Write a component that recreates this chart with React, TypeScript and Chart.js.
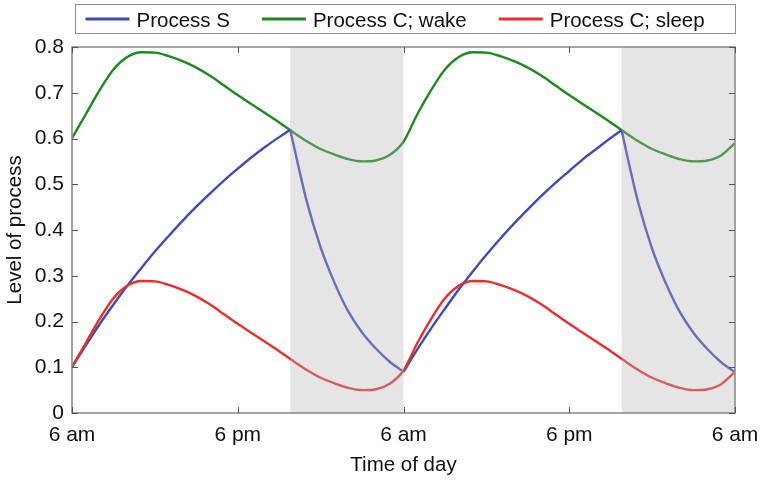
import { useEffect, useRef } from "react";
import { Chart, registerables } from "chart.js";

Chart.register(...registerables);

// Time axis: hours after 6 am on the first day
const hours = [
  0, 1, 2, 3, 4, 5, 6, 7, 8, 9, 10, 11, 12, 13, 14, 15, 16, 17, 18, 19, 20, 21, 22, 23,
  24, 25, 26, 27, 28, 29, 30, 31, 32, 33, 34, 35, 36, 37, 38, 39, 40, 41, 42, 43, 44, 45, 46, 47, 48,
];

// Circadian process C, upper threshold (wake)
const cWake = [
  0.601, 0.653, 0.706, 0.751, 0.778, 0.7885, 0.7878, 0.780, 0.769, 0.755, 0.737, 0.716, 0.695, 0.675, 0.655, 0.635,
  0.614, 0.594, 0.577, 0.565, 0.555, 0.550, 0.552, 0.564,
  0.593, 0.653, 0.706, 0.751, 0.778, 0.7885, 0.7878, 0.780, 0.769, 0.755, 0.737, 0.716, 0.695, 0.675, 0.655, 0.635,
  0.614, 0.594, 0.577, 0.565, 0.555, 0.550, 0.552, 0.563, 0.590,
];

// Circadian process C, lower threshold (sleep)
const cSleep = [
  0.101, 0.153, 0.206, 0.251, 0.278, 0.2885, 0.2878, 0.280, 0.269, 0.255, 0.237, 0.216, 0.195, 0.175, 0.155, 0.135,
  0.114, 0.094, 0.077, 0.065, 0.055, 0.050, 0.052, 0.064,
  0.093, 0.153, 0.206, 0.251, 0.278, 0.2885, 0.2878, 0.280, 0.269, 0.255, 0.237, 0.216, 0.195, 0.175, 0.155, 0.135,
  0.114, 0.094, 0.077, 0.065, 0.055, 0.050, 0.052, 0.063, 0.090,
];

// Homeostatic process S: build-up while awake, decay while asleep
const sWakeHours1 = [0, 1, 2, 3, 4, 5, 6, 7, 8, 9, 10, 11, 12, 13, 14, 15, 15.8];
const sWake1 = [0.100, 0.148, 0.194, 0.237, 0.278, 0.316, 0.353, 0.387, 0.420, 0.451, 0.480, 0.508, 0.534, 0.559, 0.582, 0.603, 0.619];
const sSleepHours1 = [15.8, 16, 17, 18, 19, 20, 21, 22, 23, 24];
const sSleep1 = [0.619, 0.592, 0.462, 0.362, 0.285, 0.222, 0.176, 0.141, 0.112, 0.090];
const sWakeHours2 = [24, 25, 26, 27, 28, 29, 30, 31, 32, 33, 34, 35, 36, 37, 38, 39, 39.8];
const sWake2 = [0.090, 0.139, 0.185, 0.228, 0.270, 0.309, 0.346, 0.381, 0.414, 0.445, 0.475, 0.503, 0.529, 0.555, 0.578, 0.601, 0.618];
const sSleepHours2 = [39.8, 40, 41, 42, 43, 44, 45, 46, 47, 48];
const sSleep2 = [0.618, 0.589, 0.459, 0.359, 0.283, 0.221, 0.175, 0.140, 0.111, 0.089];

// Sleep episodes (start hour, end hour)
const sleepStarts = [15.8, 39.8];
const sleepEnds = [24, 48];

// Axis ticks
const xTickValues = [0, 12, 24, 36, 48];
const xTickLabels = ["6 am", "6 pm", "6 am", "6 pm", "6 am"];
const yTickValues = [0, 0.1, 0.2, 0.3, 0.4, 0.5, 0.6, 0.7, 0.8];
const yTickLabels = ["0", "0.1", "0.2", "0.3", "0.4", "0.5", "0.6", "0.7", "0.8"];

const seriesNames = ["Process S", "Process C; wake", "Process C; sleep"];

const BLUE = "#3d4cbd";
const GREEN = "#1c8a1c";
const RED = "#e8302b";
const seriesColors = [BLUE, GREEN, RED];

const FONT = "'Liberation Sans', Arial, Helvetica, sans-serif";

const zip = (xs: number[], ys: number[]) => xs.map((x, i) => ({ x, y: ys[i] }));

const lineStyle = (color: string, order: number) => ({
  borderColor: color,
  backgroundColor: color,
  borderWidth: 2.4,
  pointRadius: 0,
  fill: false,
  cubicInterpolationMode: "monotone" as const,
  order,
});

// Shaded sleep episodes, drawn over the curves so they appear paler inside
const sleepShade = {
  id: "sleepShade",
  afterDatasetsDraw(chart: any) {
    const { ctx, chartArea, scales } = chart;
    ctx.save();
    ctx.fillStyle = "rgba(180,180,180,0.35)";
    sleepStarts.forEach((s, i) => {
      const x0 = scales.x.getPixelForValue(s);
      const x1 = scales.x.getPixelForValue(sleepEnds[i]);
      ctx.fillRect(x0, chartArea.top, x1 - x0, chartArea.bottom - chartArea.top);
    });
    ctx.restore();
  },
};

// Box frame with inward ticks on all four sides
const boxFrame = {
  id: "boxFrame",
  afterDraw(chart: any) {
    const { ctx, chartArea, scales } = chart;
    const { left, right, top, bottom } = chartArea;
    ctx.save();
    ctx.strokeStyle = "#8e8e8e";
    ctx.lineWidth = 1.6;
    ctx.strokeRect(left, top, right - left, bottom - top);
    ctx.strokeStyle = "#555";
    ctx.lineWidth = 1;
    const len = 6;
    ctx.beginPath();
    yTickValues.forEach((v) => {
      const y = Math.round(scales.y.getPixelForValue(v)) + 0.5;
      ctx.moveTo(left, y);
      ctx.lineTo(left + len, y);
      ctx.moveTo(right, y);
      ctx.lineTo(right - len, y);
    });
    xTickValues.forEach((v) => {
      const x = Math.round(scales.x.getPixelForValue(v)) + 0.5;
      ctx.moveTo(x, bottom);
      ctx.lineTo(x, bottom - len);
      ctx.moveTo(x, top);
      ctx.lineTo(x, top + len);
    });
    ctx.stroke();
    ctx.restore();
  },
};

// Boxed horizontal legend above the plot
const boxedLegend = {
  id: "boxedLegend",
  afterDraw(chart: any) {
    const { ctx, chartArea } = chart;
    const boxLeft = chartArea.left + 3.5;
    const boxRight = chartArea.right + 0.5;
    const boxTop = 4.5;
    const boxBottom = 33.5;
    ctx.save();
    ctx.strokeStyle = "#8e8e8e";
    ctx.lineWidth = 1;
    ctx.strokeRect(boxLeft, boxTop, boxRight - boxLeft, boxBottom - boxTop);
    ctx.font = `20.5px ${FONT}`;
    ctx.textBaseline = "alphabetic";
    ctx.textAlign = "left";
    let x = boxLeft + 10;
    const lineY = 19;
    seriesNames.forEach((name, i) => {
      ctx.strokeStyle = seriesColors[i];
      ctx.lineWidth = 2.8;
      ctx.beginPath();
      ctx.moveTo(x, lineY);
      ctx.lineTo(x + 44, lineY);
      ctx.stroke();
      ctx.fillStyle = "#111";
      ctx.fillText(name, x + 51, 26.5);
      x += 51 + ctx.measureText(name).width + 32;
    });
    ctx.restore();
  },
};

export default function App() {
  const canvasRef = useRef<HTMLCanvasElement | null>(null);

  useEffect(() => {
    const canvas = canvasRef.current;
    if (!canvas) return;
    Chart.defaults.font.family = FONT;
    Chart.defaults.color = "#111";

    const chart = new Chart(canvas, {
      type: "line",
      data: {
        datasets: [
          { label: seriesNames[2], data: zip(hours, cSleep), ...lineStyle(RED, 0) },
          { label: seriesNames[0], data: zip(sWakeHours1, sWake1), ...lineStyle(BLUE, 1) },
          { label: seriesNames[0], data: zip(sSleepHours1, sSleep1), ...lineStyle(BLUE, 1) },
          { label: seriesNames[0], data: zip(sWakeHours2, sWake2), ...lineStyle(BLUE, 1) },
          { label: seriesNames[0], data: zip(sSleepHours2, sSleep2), ...lineStyle(BLUE, 1) },
          { label: seriesNames[1], data: zip(hours, cWake), ...lineStyle(GREEN, 2) },
        ],
      },
      options: {
        responsive: false,
        animation: false,
        devicePixelRatio: 1,
        layout: { padding: { top: 47, right: 28, left: 0, bottom: 0 } },
        plugins: {
          legend: { display: false },
          tooltip: { enabled: false },
        },
        scales: {
          x: {
            type: "linear",
            min: 0,
            max: 48,
            afterBuildTicks: (scale: any) => {
              scale.ticks = xTickValues.map((value) => ({ value }));
            },
            ticks: {
              autoSkip: false,
              maxRotation: 0,
              padding: 10,
              font: { size: 21 },
              callback: (value: any) => xTickLabels[xTickValues.indexOf(Number(value))] ?? "",
            },
            grid: { display: false, drawTicks: false },
            border: { display: false },
            title: {
              display: true,
              text: "Time of day",
              font: { size: 20.5 },
              padding: { top: 0, bottom: 4 },
            },
            afterFit: (scale: any) => {
              scale.height = 69;
              scale.paddingLeft = 0;
              scale.paddingRight = 0;
            },
          },
          y: {
            type: "linear",
            min: 0,
            max: 0.8,
            afterBuildTicks: (scale: any) => {
              scale.ticks = yTickValues.map((value) => ({ value }));
            },
            ticks: {
              autoSkip: false,
              padding: 8,
              font: { size: 21 },
              callback: (value: any) => {
                const i = yTickValues.findIndex((v) => Math.abs(v - Number(value)) < 1e-6);
                return i >= 0 ? yTickLabels[i] : "";
              },
            },
            grid: { display: false, drawTicks: false },
            border: { display: false },
            title: {
              display: true,
              text: "Level of process",
              font: { size: 20.5 },
              padding: { top: 3, bottom: 0 },
            },
            afterFit: (scale: any) => {
              scale.width = 72;
            },
          },
        },
      },
      plugins: [sleepShade, boxFrame, boxedLegend],
    });

    return () => chart.destroy();
  }, []);

  return (
    <div style={{ position: "fixed", left: 0, top: 0, width: 763, height: 482, background: "#fff" }}>
      <canvas ref={canvasRef} width={763} height={482} style={{ width: 763, height: 482, display: "block" }} />
    </div>
  );
}
